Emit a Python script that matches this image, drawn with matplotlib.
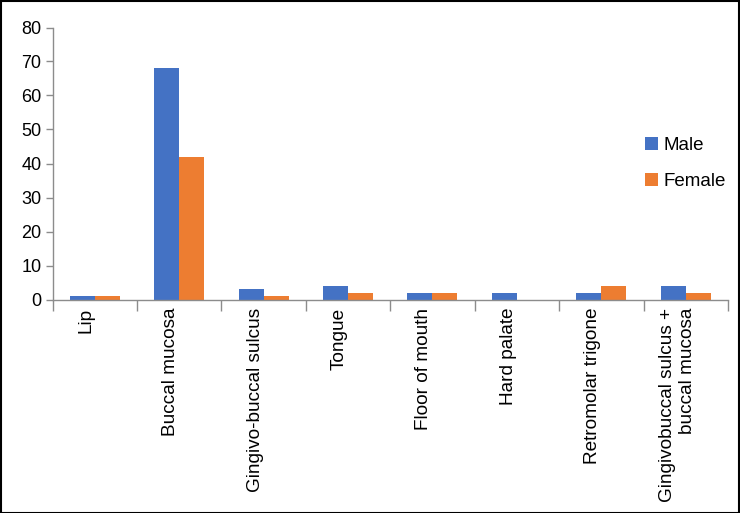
import matplotlib
matplotlib.use("Agg")
import matplotlib.pyplot as plt
import matplotlib.transforms as mtransforms
from matplotlib.patches import Rectangle
import numpy as np

plt.rcParams['font.family'] = ['Liberation Sans', 'DejaVu Sans']

categories = ["Lip", "Buccal mucosa", "Gingivo-buccal sulcus", "Tongue",
              "Floor of mouth", "Hard palate", "Retromolar trigone",
              "Gingivobuccal sulcus +\nbuccal mucosa"]
male = [1, 68, 3, 4, 2, 2, 2, 4]
female = [1, 42, 1, 2, 2, 0, 4, 2]
series_names = ["Male", "Female"]
yticks = [0, 10, 20, 30, 40, 50, 60, 70, 80]

blue = "#4472C4"
orange = "#ED7D31"
grey = "#8C8C8C"

fig = plt.figure(figsize=(7.40, 5.13), dpi=100)
ax = fig.add_axes([52.5/740, 213.5/513, (728-52.5)/740, 272/513])

x = np.arange(len(categories))
w = 0.296
ax.bar(x - w/2, male, width=w, color=blue, label=series_names[0])
ax.bar(x + w/2, female, width=w, color=orange, label=series_names[1])

ax.set_xlim(-0.5, len(categories) - 0.5)
ax.set_ylim(0, 80)
ax.set_yticks(yticks)
ax.set_yticklabels([str(v) for v in yticks], fontsize=13)

for s in ["top", "right"]:
    ax.spines[s].set_visible(False)
for s in ["left", "bottom"]:
    ax.spines[s].set_color(grey)
    ax.spines[s].set_linewidth(1.0)

ax.tick_params(axis='y', length=5, color=grey, width=1.0, pad=3)
ax.set_xticks(x)
ax.set_xticklabels(categories, rotation=90, fontsize=13.7, va='top', ha='center',
                   multialignment='right')
ax.tick_params(axis='x', which='major', length=0, pad=6)
ax.set_xticks(np.arange(len(categories) + 1) - 0.5, minor=True)
ax.tick_params(axis='x', which='minor', length=8, color=grey, width=1.0)

offset = mtransforms.ScaledTranslation(-8.5/100, 0, fig.dpi_scale_trans)
for lab in ax.get_xticklabels():
    lab.set_transform(lab.get_transform() + offset)

leg = ax.legend(loc='upper left', bbox_to_anchor=(585/675.5, 170/272), frameon=False,
                fontsize=13.5, handlelength=0.7, handleheight=0.7, handletextpad=0.3,
                labelspacing=1.0, borderaxespad=0)

fig.patches.append(Rectangle((0.5/740, 0.5/513), 1 - 1.5/740, 1 - 1.5/513,
                             transform=fig.transFigure, fill=False,
                             edgecolor='black', linewidth=1.5))

fig.savefig("out.png", dpi=100)
